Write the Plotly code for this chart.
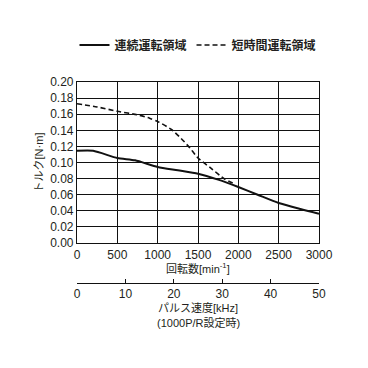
import plotly.graph_objects as go

# Data
cont_rpm = [0, 200, 500, 720, 1000, 1250, 1500, 1750, 2000, 2240, 2500, 2770, 3000]
cont_torque = [0.1145, 0.1145, 0.1056, 0.1027, 0.0944, 0.0903, 0.0861, 0.0787, 0.0696, 0.0600, 0.0497, 0.0422, 0.0364]

short_rpm = [0, 250, 500, 760, 900, 1000, 1170, 1290, 1400, 1500, 1660, 1830, 1950]
short_torque = [0.173, 0.169, 0.1636, 0.159, 0.155, 0.151, 0.141, 0.130, 0.118, 0.1056, 0.093, 0.0795, 0.0735]

x_ticks = [0, 500, 1000, 1500, 2000, 2500, 3000]
y_ticks = [0.00, 0.02, 0.04, 0.06, 0.08, 0.10, 0.12, 0.14, 0.16, 0.18, 0.20]
khz_ticks = [0, 10, 20, 30, 40, 50]

legend_cont = "連続運転領域"
legend_short = "短時間運転領域"

FONT = "Liberation Sans, Arial, Noto Sans CJK JP, sans-serif"
TXT = "#231f20"

fig = go.Figure()
fig.add_trace(go.Scatter(x=cont_rpm, y=cont_torque, mode="lines", name="<b>" + legend_cont + "</b>",
                         line=dict(color="#111111", width=2, shape="spline", smoothing=0.6)))
fig.add_trace(go.Scatter(x=short_rpm, y=short_torque, mode="lines", name="<b>" + legend_short + "</b>",
                         line=dict(color="#111111", width=1.6, dash="5px,3px", shape="spline", smoothing=0.6)))
# dummy trace for second x axis
fig.add_trace(go.Scatter(x=[0, 50], y=[None, None], xaxis="x2", yaxis="y", showlegend=False, hoverinfo="skip"))

# paper: top 82, bottom 283 -> height 201; main plot bottom at 243
ydom0 = (283 - 243) / 201

fig.update_layout(
    width=368, height=368,
    margin=dict(l=77, r=49, t=82, b=85),
    paper_bgcolor="white", plot_bgcolor="white",
    font=dict(family=FONT, size=12, color=TXT),
    showlegend=True,
    legend=dict(orientation="h", x=0.5, xanchor="center", y=1 + (82 - 45) / 201, yanchor="middle",
                font=dict(size=12, color=TXT, family=FONT), itemwidth=30, tracegroupgap=0,
                bgcolor="rgba(0,0,0,0)"),
    xaxis=dict(range=[0, 3000], tickvals=x_ticks, showgrid=True, gridcolor="#111111", gridwidth=1,
               showline=True, linecolor="#111111", linewidth=1.2, mirror=True, ticks="",
               zeroline=False, tickfont=dict(size=12, color=TXT), anchor="y"),
    yaxis=dict(range=[0, 0.2], tickvals=y_ticks, tickformat=".2f", showgrid=True, gridcolor="#111111",
               gridwidth=1, showline=True, linecolor="#111111", linewidth=1.2, mirror=True, ticks="",
               zeroline=False, domain=[ydom0, 1], tickfont=dict(size=12, color=TXT),
               title=dict(text="トルク[N·m]", font=dict(size=11, color=TXT), standoff=4)),
    xaxis2=dict(range=[0, 50], tickvals=khz_ticks, overlaying="x", anchor="free", position=0,
                side="bottom", showline=True, linecolor="#111111", linewidth=1, ticks="inside",
                ticklen=4, tickcolor="#111111", showgrid=False, zeroline=False,
                tickfont=dict(size=12, color=TXT)),
)

fig.add_annotation(text="回転数[min<sup>-1</sup>]", x=0.5, y=(283 - 268) / 201, xref="paper", yref="paper",
                   showarrow=False, font=dict(size=11, color=TXT), yanchor="middle")
fig.add_annotation(text="パルス速度[kHz]", x=0.5, y=-(308 - 283) / 201, xref="paper", yref="paper",
                   showarrow=False, font=dict(size=11, color=TXT), yanchor="middle")
fig.add_annotation(text="(1000P/R設定時)", x=0.5, y=-(323 - 283) / 201, xref="paper", yref="paper",
                   showarrow=False, font=dict(size=11, color=TXT), yanchor="middle")

fig.write_html("out.html")
